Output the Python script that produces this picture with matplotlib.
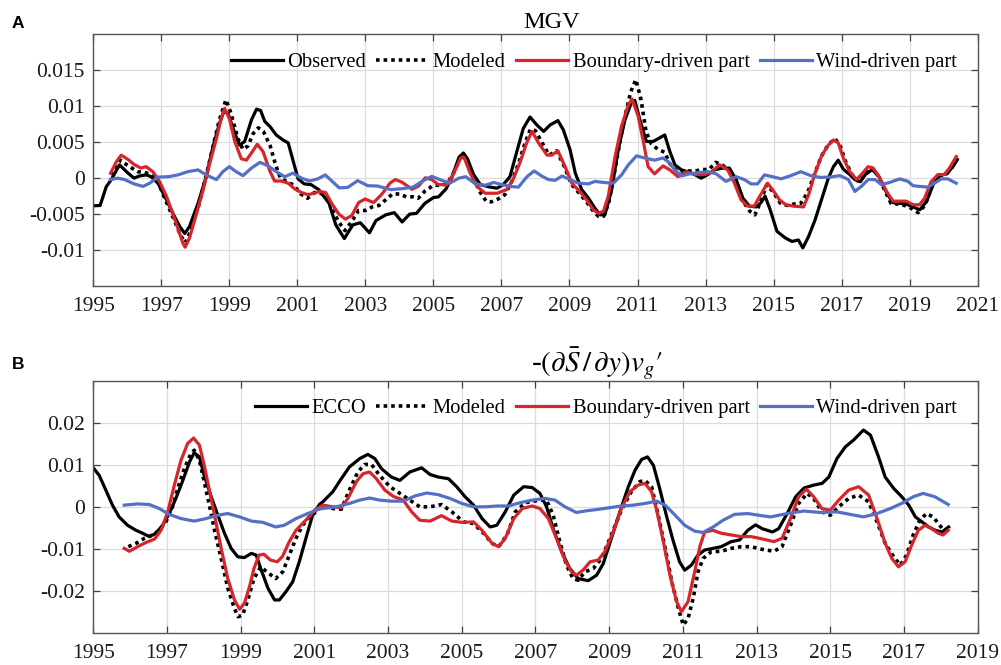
import numpy as np
import matplotlib
matplotlib.use("Agg")
import matplotlib.pyplot as plt

plt.rcParams["font.family"] = ["Liberation Serif", "DejaVu Serif"]
plt.rcParams["mathtext.fontset"] = "stix"

# ---------------- Panel A: MGV (values in units of 1e-3) ----------------
mgv_obs_t = [1995.0, 1995.2, 1995.38, 1995.53, 1995.77, 1996.02, 1996.2, 1996.35, 1996.56, 1996.7,
             1996.9, 1997.1, 1997.34, 1997.54, 1997.69, 1997.83, 1998.08, 1998.32, 1998.52, 1998.71,
             1998.84, 1998.96, 1999.16, 1999.3, 1999.45, 1999.65, 1999.8, 1999.92, 2000.04, 2000.19,
             2000.38, 2000.58, 2000.73, 2000.87, 2001.02, 2001.2, 2001.4, 2001.63, 2001.93, 2002.13,
             2002.38, 2002.63, 2002.85, 2003.12, 2003.31, 2003.6, 2003.85, 2004.08, 2004.3, 2004.5,
             2004.75, 2005.0, 2005.15, 2005.37, 2005.55, 2005.75, 2005.88, 2006.0, 2006.18, 2006.38,
             2006.62, 2006.87, 2007.05, 2007.25, 2007.44, 2007.64, 2007.84, 2008.04, 2008.24, 2008.43,
             2008.66, 2008.82, 2009.02, 2009.17, 2009.36, 2009.56, 2009.75, 2009.9, 2010.04, 2010.24,
             2010.43, 2010.63, 2010.82, 2010.92, 2011.07, 2011.26, 2011.46, 2011.65, 2011.8, 2011.95,
             2012.1, 2012.29, 2012.48, 2012.68, 2012.87, 2013.07, 2013.26, 2013.5, 2013.7, 2013.9,
             2014.1, 2014.29, 2014.49, 2014.63, 2014.75, 2014.9, 2015.1, 2015.34, 2015.54, 2015.73,
             2015.86, 2016.03, 2016.22, 2016.42, 2016.61, 2016.76, 2016.9, 2017.05, 2017.24, 2017.39,
             2017.55, 2017.7, 2017.9, 2018.1, 2018.3, 2018.5, 2018.7, 2018.9, 2019.1, 2019.3,
             2019.5, 2019.7, 2019.9, 2020.1, 2020.3, 2020.4]
mgv_obs_v = [-3.85, -3.8, -1.2, -0.2, 1.85, 0.7, 0.0, 0.3, 0.45, 0.2,
             -0.7, -2.5, -4.9, -6.7, -7.7, -6.7, -3.5, 0.2, 4.4, 7.6,
             9.3, 9.0, 6.25, 4.6, 5.1, 8.1, 9.6, 9.4, 7.9, 7.2,
             6.0, 5.3, 4.9, 2.5, -0.1, -0.8, -0.9, -1.6, -3.5, -6.5,
             -8.4, -6.5, -6.2, -7.6, -5.9, -5.1, -4.8, -6.1, -5.0, -4.9,
             -3.5, -2.7, -2.6, -1.5, 0.2, 2.9, 3.5, 2.7, 0.5, -0.9,
             -1.2, -1.4, -0.9, 0.2, 3.5, 6.9, 8.5, 7.4, 6.5, 7.4,
             8.0, 6.7, 3.9, 0.7, -1.6, -2.8, -4.2, -5.1, -5.1, -1.6,
             3.9, 8.1, 10.5, 10.8, 8.1, 5.1, 5.1, 5.6, 6.0, 3.7,
             1.85, 1.15, 0.9, 0.5, 0.0, 0.5, 1.15, 1.4, 1.4, -0.2,
             -2.8, -3.9, -4.0, -3.4, -2.5, -4.4, -7.4, -8.3, -8.8, -8.6,
             -9.7, -8.1, -5.8, -2.8, 0.0, 1.6, 2.5, 1.25, 0.5, -0.2,
             -0.5, 0.5, 1.2, 0.2, -1.8, -3.4, -3.5, -3.6, -4.0, -4.4,
             -3.2, -0.8, 0.4, 0.6, 1.8, 2.6]

mgv_mod_t = [1995.5, 1995.8, 1996.0, 1996.3, 1996.5, 1996.7, 1996.9, 1997.1, 1997.35, 1997.55,
             1997.7, 1997.85, 1998.1, 1998.3, 1998.5, 1998.7, 1998.9, 1999.05, 1999.25, 1999.4,
             1999.55, 1999.7, 1999.85, 2000.0, 2000.2, 2000.35, 2000.5, 2000.7, 2000.9, 2001.1,
             2001.3, 2001.5, 2001.8, 2002.0, 2002.2, 2002.4, 2002.6, 2002.8, 2003.0, 2003.2,
             2003.4, 2003.6, 2003.8, 2004.0, 2004.2, 2004.4, 2004.55, 2004.75, 2005.0, 2005.2,
             2005.4, 2005.6, 2005.8, 2005.95, 2006.15, 2006.35, 2006.55, 2006.7, 2006.9, 2007.1,
             2007.3, 2007.5, 2007.7, 2007.85, 2008.0, 2008.15, 2008.4, 2008.62, 2008.85, 2009.05,
             2009.3, 2009.5, 2009.7, 2009.85, 2010.0, 2010.15, 2010.35, 2010.5, 2010.65, 2010.8,
             2010.95, 2011.1, 2011.25, 2011.4, 2011.6, 2011.8, 2011.95, 2012.15, 2012.4, 2012.7,
             2012.9, 2013.1, 2013.3, 2013.5, 2013.7, 2013.9, 2014.1, 2014.3, 2014.45, 2014.6,
             2014.8, 2015.0, 2015.2, 2015.4, 2015.6, 2015.8, 2016.0, 2016.2, 2016.4, 2016.6,
             2016.8, 2016.95, 2017.1, 2017.3, 2017.5, 2017.65, 2017.85, 2018.05, 2018.25, 2018.45,
             2018.65, 2018.85, 2019.05, 2019.25, 2019.45, 2019.65, 2019.85, 2020.05, 2020.25, 2020.4]
mgv_mod_v = [0.5, 2.5, 1.8, 0.9, 0.8, 0.5, -0.5, -2.8, -5.5, -7.8,
             -9.0, -7.5, -3.8, 0.0, 4.0, 8.0, 10.9, 9.0, 5.5, 4.0,
             4.5, 6.2, 7.0, 6.5, 4.5, 2.0, 0.0, -0.5, -1.0, -2.2,
             -2.8, -2.0, -2.2, -4.0, -6.0, -7.3, -6.0, -4.5, -4.5, -4.0,
             -3.8, -3.0, -2.2, -2.2, -2.6, -2.6, -2.8, -1.8, -1.0, -1.0,
             -0.8, 0.8, 3.0, 2.7, 0.5, -1.8, -3.2, -3.3, -2.9, -2.3,
             -0.5, 2.0, 5.0, 6.8, 6.6, 5.3, 3.2, 3.8, 1.6, -0.8,
             -2.2, -3.3, -4.6, -5.3, -5.3, -3.5, 1.5, 5.5, 9.0, 12.0,
             13.7, 11.0, 6.5, 4.8, 4.0, 3.6, 2.0, 1.0, 1.0, 1.0,
             1.2, 1.2, 2.2, 1.8, 1.0, -0.5, -3.2, -4.6, -5.1, -3.5,
             -0.9, -2.0, -3.5, -3.8, -3.6, -3.5, -2.0, 0.5, 3.0, 4.6,
             5.5, 4.6, 2.5, 0.5, -0.5, 0.3, 1.5, 0.5, -1.5, -3.5,
             -3.6, -3.8, -4.2, -4.8, -3.8, -1.2, 0.3, 0.5, 1.5, 2.7]

mgv_bnd_t = [1995.51, 1995.68, 1995.82, 1996.02, 1996.2, 1996.4, 1996.55, 1996.75, 1996.95, 1997.15,
             1997.34, 1997.49, 1997.63, 1997.7, 1997.83, 1998.03, 1998.23, 1998.42, 1998.62, 1998.76,
             1998.86, 1999.0, 1999.16, 1999.35, 1999.5, 1999.65, 1999.82, 1999.99, 2000.19, 2000.33,
             2000.53, 2000.73, 2000.92, 2001.12, 2001.31, 2001.5, 2001.65, 2001.83, 2002.02, 2002.22,
             2002.41, 2002.6, 2002.8, 2002.99, 2003.24, 2003.48, 2003.73, 2003.88, 2004.07, 2004.37,
             2004.56, 2004.76, 2004.95, 2005.15, 2005.4, 2005.6, 2005.8, 2005.9, 2006.08, 2006.28,
             2006.52, 2006.87, 2007.15, 2007.34, 2007.54, 2007.74, 2007.9, 2008.09, 2008.34, 2008.48,
             2008.66, 2008.87, 2009.07, 2009.3, 2009.5, 2009.7, 2009.85, 2010.0, 2010.14, 2010.34,
             2010.53, 2010.73, 2010.84, 2011.02, 2011.17, 2011.31, 2011.5, 2011.75, 2011.95, 2012.19,
             2012.43, 2012.68, 2012.97, 2013.17, 2013.41, 2013.65, 2013.85, 2014.04, 2014.24, 2014.43,
             2014.62, 2014.82, 2014.97, 2015.17, 2015.36, 2015.6, 2015.88, 2016.03, 2016.22, 2016.42,
             2016.61, 2016.76, 2016.9, 2017.05, 2017.24, 2017.44, 2017.58, 2017.78, 2017.93, 2018.12,
             2018.32, 2018.51, 2018.71, 2018.9, 2019.1, 2019.29, 2019.44, 2019.63, 2019.83, 2020.02,
             2020.17, 2020.37]
mgv_bnd_v = [0.7, 2.3, 3.2, 2.6, 1.9, 1.4, 1.6, 0.9, -0.5, -2.5,
             -5.0, -7.0, -9.0, -9.6, -8.3, -5.0, -1.6, 2.0, 5.5, 8.3,
             9.7, 8.3, 5.1, 2.7, 2.5, 3.5, 4.7, 3.7, 1.0, -0.4,
             -0.4, -0.7, -1.5, -2.0, -2.3, -2.1, -1.85, -2.0, -3.6, -5.0,
             -5.7, -5.2, -3.4, -2.9, -3.4, -2.25, -0.65, -0.2, -0.55, -1.55,
             -1.1, 0.05, -0.2, -0.9, -0.9, 0.7, 2.8, 2.9, 0.7, -1.15,
             -2.1, -2.1, -1.6, -0.2, 2.1, 4.9, 6.5, 4.9, 3.2, 3.2,
             3.8, 1.6, -0.7, -1.85, -3.0, -4.4, -4.9, -4.6, -2.5, 3.0,
             7.2, 10.2, 11.0, 8.6, 5.1, 1.6, 0.6, 1.7, 1.15, 0.2,
             0.9, 0.5, 0.5, 0.8, 1.85, 1.15, -0.7, -3.0, -3.9, -3.9,
             -2.3, -0.7, -1.6, -3.0, -3.7, -3.9, -4.0, -2.3, 0.7, 3.2,
             4.6, 5.3, 4.9, 2.8, 0.9, -0.2, 0.5, 1.6, 1.4, 0.0,
             -1.85, -3.2, -3.2, -3.2, -3.7, -3.7, -2.8, -0.5, 0.5, 0.5,
             1.4, 3.0]

mgv_wind_t = [1995.5, 1995.72, 1995.92, 1996.2, 1996.46, 1996.66, 1996.9, 1997.2, 1997.49, 1997.78,
              1998.08, 1998.32, 1998.62, 1998.81, 1999.0, 1999.2, 1999.4, 1999.65, 1999.9, 2000.14,
              2000.38, 2000.63, 2000.87, 2001.12, 2001.36, 2001.6, 2001.82, 2002.23, 2002.48, 2002.77,
              2003.07, 2003.36, 2003.75, 2004.1, 2004.4, 2004.68, 2004.95, 2005.24, 2005.48, 2005.75,
              2005.95, 2006.23, 2006.52, 2006.77, 2007.01, 2007.26, 2007.5, 2007.75, 2007.96, 2008.18,
              2008.38, 2008.58, 2008.78, 2009.02, 2009.26, 2009.56, 2009.75, 2010.0, 2010.29, 2010.53,
              2010.73, 2010.97, 2011.21, 2011.5, 2011.75, 2011.9, 2012.1, 2012.29, 2012.53, 2012.82,
              2013.07, 2013.31, 2013.6, 2013.9, 2014.14, 2014.34, 2014.53, 2014.73, 2014.97, 2015.22,
              2015.51, 2015.8, 2016.09, 2016.37, 2016.66, 2016.95, 2017.2, 2017.39, 2017.58, 2017.78,
              2017.98, 2018.17, 2018.41, 2018.71, 2018.95, 2019.1, 2019.29, 2019.54, 2019.73, 2019.93,
              2020.12, 2020.37]
mgv_wind_v = [-0.2, 0.0, -0.2, -0.8, -1.15, -0.7, 0.15, 0.2, 0.45, 0.9,
              1.15, 0.45, -0.2, 0.9, 1.6, 0.9, 0.35, 1.4, 2.2, 1.7,
              0.9, 0.2, 0.7, 0.0, -0.4, -0.1, 0.45, -1.35, -1.3, -0.35,
              -1.05, -1.1, -1.6, -1.45, -1.25, -0.4, 0.25, -0.3, -0.7, 0.0,
              0.2, -0.8, -1.0, -0.6, -0.9, -1.15, -1.25, 0.2, 1.0, 0.3,
              -0.2, -0.3, 0.3, -0.2, -0.7, -0.8, -0.45, -0.6, -0.7, 0.45,
              1.85, 3.1, 2.8, 2.5, 2.8, 2.3, 1.15, 0.3, 0.6, 0.8,
              0.9, 0.6, -0.45, 0.2, -0.2, -0.8, -0.8, 0.45, 0.2, -0.1,
              0.35, 0.9, 0.35, 0.1, 0.15, 0.35, -0.2, -1.85, -1.15, -0.2,
              -0.2, -0.9, -0.6, -0.1, -0.45, -1.05, -1.15, -1.25, -0.7, -0.1,
              -0.1, -0.7]

# ---------------- Panel B: -(dS/dy) vg' (values in units of 1e-3) ----------------
adv_ecco_t = [1995.0, 1995.16, 1995.34, 1995.52, 1995.7, 1995.93, 1996.16, 1996.34, 1996.52, 1996.7,
              1996.88, 1997.06, 1997.24, 1997.43, 1997.61, 1997.74, 1997.88, 1998.01, 1998.2, 1998.38,
              1998.56, 1998.74, 1998.92, 1999.1, 1999.29, 1999.42, 1999.56, 1999.74, 1999.92, 2000.05,
              2000.23, 2000.41, 2000.59, 2000.77, 2000.95, 2001.14, 2001.23, 2001.5, 2001.73, 2001.95,
              2002.23, 2002.45, 2002.64, 2002.82, 2003.09, 2003.32, 2003.59, 2003.91, 2004.14, 2004.36,
              2004.64, 2004.86, 2005.09, 2005.32, 2005.55, 2005.77, 2005.95, 2006.18, 2006.41, 2006.68,
              2006.91, 2007.12, 2007.3, 2007.48, 2007.71, 2007.93, 2008.16, 2008.43, 2008.66, 2008.84,
              2009.06, 2009.29, 2009.52, 2009.7, 2009.88, 2010.04, 2010.2, 2010.37, 2010.55, 2010.73,
              2010.91, 2011.05, 2011.23, 2011.41, 2011.59, 2011.82, 2012.04, 2012.31, 2012.54, 2012.76,
              2012.97, 2013.15, 2013.43, 2013.6, 2013.83, 2014.06, 2014.29, 2014.56, 2014.78, 2014.96,
              2015.18, 2015.41, 2015.63, 2015.9, 2016.09, 2016.31, 2016.49, 2016.72, 2016.94, 2017.13,
              2017.31, 2017.49, 2017.67, 2017.85, 2018.03, 2018.21]
adv_ecco_v = [9.3, 7.5, 4.0, 0.4, -2.4, -4.4, -5.6, -6.3, -7.1, -6.3,
              -4.4, -1.6, 2.0, 6.3, 10.7, 12.9, 11.9, 7.5, 2.4, -2.0,
              -6.3, -9.9, -11.9, -12.1, -11.1, -11.5, -15.1, -19.4, -22.2, -22.2,
              -20.2, -17.9, -13.1, -7.5, -2.0, 0.6, 1.2, 3.6, 6.7, 9.5,
              11.5, 12.5, 11.5, 9.1, 7.1, 6.3, 8.3, 9.3, 7.7, 7.1,
              6.7, 4.8, 2.4, 0.4, -2.8, -4.8, -4.4, -1.2, 2.8, 4.8,
              4.6, 3.2, 0.0, -5.2, -10.7, -14.7, -17.1, -17.6, -16.3, -13.5,
              -7.5, -1.2, 4.8, 8.7, 11.3, 11.9, 9.9, 4.4, -2.0, -7.9,
              -13.1, -15.1, -13.9, -11.5, -10.3, -9.9, -9.5, -8.3, -7.9, -5.6,
              -4.3, -5.2, -6.0, -5.2, -1.6, 2.4, 4.5, 5.2, 5.6, 7.1,
              11.5, 14.3, 15.9, 18.3, 17.1, 11.9, 7.1, 4.4, 2.4, 0.4,
              -2.4, -3.6, -4.8, -5.6, -6.0, -4.8]

adv_mod_t = [1995.95, 1996.16, 1996.39, 1996.61, 1996.79, 1996.97, 1997.15, 1997.29, 1997.47, 1997.65,
             1997.74, 1997.88, 1998.01, 1998.15, 1998.29, 1998.47, 1998.65, 1998.83, 1998.93, 1999.05,
             1999.18, 1999.36, 1999.54, 1999.77, 1999.95, 2000.14, 2000.32, 2000.5, 2000.68, 2000.86,
             2001.05, 2001.23, 2001.5, 2001.73, 2001.95, 2002.18, 2002.36, 2002.55, 2002.77, 2003.05,
             2003.32, 2003.59, 2003.86, 2004.14, 2004.45, 2004.73, 2005.05, 2005.32, 2005.59, 2005.82,
             2006.0, 2006.23, 2006.45, 2006.73, 2006.95, 2007.14, 2007.3, 2007.48, 2007.66, 2007.84,
             2008.02, 2008.16, 2008.34, 2008.57, 2008.79, 2009.06, 2009.33, 2009.6, 2009.83, 2009.97,
             2010.15, 2010.33, 2010.52, 2010.7, 2010.88, 2011.01, 2011.14, 2011.28, 2011.41, 2011.55,
             2011.77, 2012.04, 2012.31, 2012.58, 2012.85, 2013.13, 2013.47, 2013.69, 2013.92, 2014.14,
             2014.37, 2014.55, 2014.77, 2015.0, 2015.23, 2015.5, 2015.77, 2016.04, 2016.27, 2016.49,
             2016.72, 2016.9, 2017.07, 2017.25, 2017.43, 2017.61, 2017.79, 2017.97, 2018.11, 2018.24]
adv_mod_v = [-9.5, -8.7, -7.5, -6.7, -5.6, -3.6, 0.0, 4.4, 9.1, 12.7,
             13.5, 11.1, 6.0, 0.4, -5.6, -12.3, -19.4, -24.2, -26.2, -25.8,
             -22.6, -17.1, -14.3, -15.9, -17.1, -15.5, -11.5, -7.5, -4.4, -2.4,
             -1.2, 0.4, -0.4, -0.6, 4.0, 8.3, 10.1, 10.1, 7.5, 4.8,
             3.2, 1.6, 0.0, 0.0, 0.55, -1.2, -3.6, -4.0, -6.3, -8.7,
             -9.5, -6.7, -1.2, 1.0, 1.35, 1.6, 1.6, -2.0, -8.3, -13.9,
             -17.1, -17.5, -15.5, -14.7, -12.3, -6.7, -0.8, 3.6, 6.0, 6.3,
             4.8, -2.0, -9.9, -17.9, -24.2, -28.2, -26.6, -21.8, -15.5, -12.3,
             -10.7, -10.6, -9.9, -9.5, -9.5, -10.1, -10.6, -9.5, -4.4, 0.8,
             3.2, 2.0, -1.2, -2.0, 0.0, 2.0, 2.8, 1.2, -3.6, -8.7,
             -11.9, -13.9, -11.5, -6.7, -3.2, -1.6, -2.4, -4.4, -6.0, -4.8]

adv_bnd_t = [1995.84, 1995.98, 1996.2, 1996.43, 1996.66, 1996.84, 1997.02, 1997.2, 1997.38, 1997.56,
             1997.72, 1997.88, 1998.01, 1998.15, 1998.29, 1998.47, 1998.65, 1998.83, 1998.97, 1999.1,
             1999.24, 1999.36, 1999.5, 1999.63, 1999.81, 1999.99, 2000.13, 2000.32, 2000.5, 2000.72,
             2000.9, 2001.0, 2001.23, 2001.5, 2001.73, 2001.91, 2002.14, 2002.32, 2002.5, 2002.68,
             2002.91, 2003.14, 2003.41, 2003.64, 2003.86, 2004.14, 2004.45, 2004.73, 2005.0, 2005.32,
             2005.55, 2005.82, 2006.0, 2006.18, 2006.41, 2006.64, 2006.91, 2007.12, 2007.35, 2007.57,
             2007.8, 2007.98, 2008.11, 2008.29, 2008.48, 2008.7, 2008.88, 2009.11, 2009.33, 2009.56,
             2009.79, 2009.97, 2010.15, 2010.29, 2010.47, 2010.65, 2010.83, 2010.96, 2011.14, 2011.32,
             2011.46, 2011.59, 2011.82, 2012.04, 2012.31, 2012.58, 2012.85, 2013.13, 2013.47, 2013.69,
             2013.92, 2014.14, 2014.35, 2014.55, 2014.77, 2015.0, 2015.23, 2015.5, 2015.77, 2016.04,
             2016.27, 2016.49, 2016.67, 2016.85, 2017.03, 2017.21, 2017.39, 2017.57, 2017.75, 2017.93,
             2018.06, 2018.2]
adv_bnd_v = [-9.9, -10.6, -9.5, -8.5, -7.7, -5.6, -1.2, 5.2, 11.1, 15.1,
             16.4, 14.7, 9.9, 4.0, -2.0, -9.9, -17.1, -22.2, -24.4, -23.0,
             -19.0, -14.7, -11.5, -11.3, -12.7, -13.1, -11.9, -8.3, -5.6, -3.6,
             -2.0, -0.8, 0.4, 0.0, -0.2, 2.0, 6.0, 7.9, 8.3, 6.7,
             4.0, 2.5, 1.6, -1.2, -3.2, -3.4, -2.1, -3.4, -3.7, -3.6,
             -5.6, -8.7, -9.5, -7.5, -2.8, -0.4, 0.2, -0.4, -2.8, -7.5,
             -12.7, -15.5, -16.3, -15.1, -13.1, -12.7, -10.7, -6.0, -0.4, 3.6,
             5.2, 5.6, 3.6, -0.8, -8.3, -16.3, -22.6, -25.0, -22.6, -15.5,
             -9.5, -6.0, -5.6, -6.3, -6.7, -7.1, -7.1, -7.6, -8.3, -7.5,
             -2.8, 2.4, 4.2, 2.4, -0.4, -0.8, 1.6, 4.0, 4.8, 2.8,
             -2.8, -8.7, -12.3, -14.3, -13.1, -9.1, -5.6, -4.4, -5.2, -6.3,
             -6.7, -5.6]

adv_wind_t = [1995.84, 1996.2, 1996.52, 1996.79, 1997.06, 1997.38, 1997.74, 1998.06, 1998.38, 1998.65,
              1998.97, 1999.29, 1999.6, 1999.95, 2000.18, 2000.5, 2000.82, 2001.14, 2001.59, 2001.95,
              2002.23, 2002.5, 2002.77, 2003.09, 2003.41, 2003.73, 2004.05, 2004.36, 2004.68, 2005.0,
              2005.32, 2005.64, 2005.95, 2006.27, 2006.59, 2006.91, 2007.26, 2007.53, 2007.8, 2008.11,
              2008.38, 2008.7, 2009.02, 2009.33, 2009.65, 2009.97, 2010.29, 2010.52, 2010.79, 2011.05,
              2011.32, 2011.55, 2011.82, 2012.09, 2012.4, 2012.76, 2013.13, 2013.38, 2013.83, 2014.28,
              2014.73, 2015.18, 2015.54, 2015.9, 2016.27, 2016.63, 2016.98, 2017.25, 2017.52, 2017.84,
              2018.2]
adv_wind_v = [0.4, 0.7, 0.55, -0.4, -1.8, -2.8, -3.4, -2.8, -2.0, -1.6,
              -2.4, -3.4, -3.7, -4.8, -4.4, -2.8, -1.6, -0.5, 0.0, 0.8,
              1.6, 2.1, 1.6, 1.35, 1.35, 2.6, 3.3, 2.9, 2.0, 0.8,
              0.0, 0.0, 0.2, 0.2, 1.0, 1.6, 2.0, 1.6, 0.0, -1.35,
              -0.95, -0.6, -0.2, 0.2, 0.4, 0.8, 1.35, 0.4, -2.0, -4.4,
              -5.8, -6.1, -4.8, -3.2, -1.8, -1.6, -2.1, -2.4, -1.6, -1.0,
              -1.35, -1.2, -1.8, -2.4, -1.6, -0.4, 1.0, 2.4, 3.2, 2.4,
              0.55]

# Axis settings
mgv_xticks = list(range(1995, 2022, 2))
mgv_yticks = [-0.01, -0.005, 0, 0.005, 0.01, 0.015]
mgv_ytick_labels = ["-0.01", "-0.005", "0", "0.005", "0.01", "0.015"]
adv_xticks = list(range(1995, 2020, 2))
adv_yticks = [-0.02, -0.01, 0, 0.01, 0.02]
adv_ytick_labels = ["-0.02", "-0.01", "0", "0.01", "0.02"]

RED = "#D7262B"
BLUE = "#5470C6"
SCALE = 1e-3

fig = plt.figure(figsize=(10.01, 6.65), dpi=100)
axA = fig.add_axes([0.0932, 0.5699, 0.8835, 0.3785])
axB = fig.add_axes([0.0932, 0.0486, 0.8835, 0.3785])


def style_axes(ax, xlim, ylim, xticks, yticks, ylabels):
    ax.set_xlim(*xlim)
    ax.set_ylim(*ylim)
    ax.set_xticks(xticks)
    ax.set_xticklabels([str(t) for t in xticks])
    ax.set_yticks(yticks)
    ax.set_yticklabels(ylabels)
    ax.grid(True, color="#DCDCDC", linewidth=0.9)
    ax.set_axisbelow(True)
    ax.tick_params(axis="both", which="both", direction="in", length=5, width=0.9,
                   top=True, right=True, labelsize=15.5, colors="#404040",
                   labelcolor="#1a1a1a")
    ax.tick_params(axis="x", pad=8)
    ax.tick_params(axis="y", pad=6)
    for sp in ax.spines.values():
        sp.set_color("#555555")
        sp.set_linewidth(1.0)


def draw_series(ax, obs, mod, bnd, wind, obs_label):
    ax.plot(obs[0], np.array(obs[1]) * SCALE, color="black", lw=2.3, label=obs_label,
            solid_joinstyle="round")
    ax.plot(mod[0], np.array(mod[1]) * SCALE, color="black", lw=2.6, ls=(0, (1.0, 1.1)),
            label="Modeled")
    ax.plot(bnd[0], np.array(bnd[1]) * SCALE, color=RED, lw=2.3, label="Boundary-driven part",
            solid_joinstyle="round")
    ax.plot(wind[0], np.array(wind[1]) * SCALE, color=BLUE, lw=2.3, label="Wind-driven part",
            solid_joinstyle="round")
    ax.legend(loc="center right", bbox_to_anchor=(0.977, 0.89), ncol=4, frameon=False,
              fontsize=14.8, handlelength=2.55, handletextpad=0.2, columnspacing=0.5,
              borderpad=0, borderaxespad=0)


draw_series(axA, (mgv_obs_t, mgv_obs_v), (mgv_mod_t, mgv_mod_v), (mgv_bnd_t, mgv_bnd_v),
            (mgv_wind_t, mgv_wind_v), "Observed")
style_axes(axA, (1995, 2021), (-0.015, 0.02), mgv_xticks, mgv_yticks, mgv_ytick_labels)

draw_series(axB, (adv_ecco_t, adv_ecco_v), (adv_mod_t, adv_mod_v), (adv_bnd_t, adv_bnd_v),
            (adv_wind_t, adv_wind_v), "ECCO")
style_axes(axB, (1995, 2019), (-0.03, 0.03), adv_xticks, adv_yticks, adv_ytick_labels)

# Titles and panel letters
fig.text(552 / 1001, 1 - 28 / 665, "MGV", ha="center", va="baseline", fontsize=17.5)
fig.text(597 / 1001, 1 - 372 / 665, r"-$(\partial\bar{S}\,/\,\partial y)v_{g}\prime$",
         ha="center", va="baseline", fontsize=21)
fig.text(12 / 1001, 1 - 28 / 665, "A", fontsize=12.5, fontweight="bold",
         family=["Liberation Sans", "DejaVu Sans"], va="baseline")
fig.text(12 / 1001, 1 - 369 / 665, "B", fontsize=12.5, fontweight="bold",
         family=["Liberation Sans", "DejaVu Sans"], va="baseline")

fig.savefig("out.png", dpi=100)
